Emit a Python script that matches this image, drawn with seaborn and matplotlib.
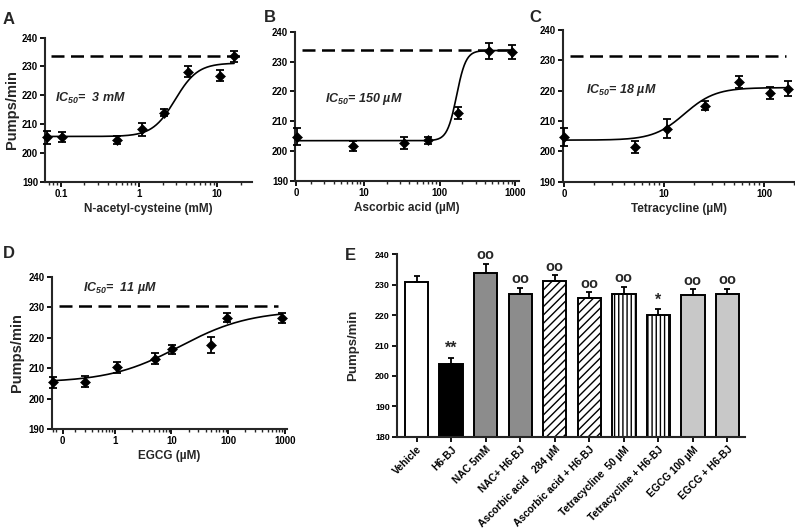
import numpy as np
import pandas as pd
import matplotlib

matplotlib.use("Agg")
import matplotlib.pyplot as plt
import seaborn as sns
from matplotlib.ticker import FixedLocator, FixedFormatter, LogLocator, NullFormatter

# A: N-acetyl-cysteine (mM)
nac_conc = [0.066, 0.103, 0.52, 1.09, 2.1, 4.3, 11.0, 16.5]
nac_pumps = [205.4, 205.5, 204.6, 208.2, 214.0, 228.2, 226.8, 233.5]
nac_sem = [2.3, 1.8, 1.4, 2.2, 1.2, 2.0, 2.0, 1.8]
nac_fit = [205.7, 231.2, 2.9, 3.0]  # bottom, top, IC50, hill
nac_vehicle = 233.8

# B: ascorbic acid (uM), "0" drawn at the left end of the log axis
asc_conc = [1.29, 7.1, 34, 71, 177, 450, 900]
asc_pumps = [204.8, 201.7, 202.8, 203.7, 212.7, 233.5, 233.2]
asc_sem = [2.8, 1.8, 2.0, 1.2, 2.0, 2.8, 2.5]
asc_fit = [203.5, 233.7, 168, 7.0]
asc_vehicle = 233.9

# C: tetracycline (uM)
tet_conc = [1.0, 5.1, 10.8, 25.9, 56, 115, 174]
tet_pumps = [204.7, 201.4, 207.5, 215.0, 223.0, 219.3, 220.6]
tet_sem = [3.0, 2.0, 3.2, 1.5, 2.0, 2.0, 2.5]
tet_fit = [203.7, 221.0, 16, 2.8]
tet_vehicle = 231.4

# D: EGCG (uM)
egcg_conc = [0.08, 0.30, 1.1, 5.2, 10.4, 49, 97, 900]
egcg_pumps = [205.4, 205.6, 210.3, 213.1, 216.2, 217.6, 226.6, 226.4]
egcg_sem = [1.8, 1.8, 1.8, 1.8, 1.5, 2.5, 1.5, 1.7]
egcg_fit = [205.3, 229.0, 14, 0.7]
egcg_vehicle = 230.3

# E: bars
groups = ["Vehicle", "H6-BJ", "NAC 5mM", "NAC+ H6-BJ", "Ascorbic acid   284 \u00b5M",
          "Ascorbic acid + H6-BJ", "Tetracycline  50 \u00b5M", "Tetracycline + H6-BJ",
          "EGCG 100 \u00b5M", "EGCG + H6-BJ"]
bar_pumps = [231.0, 204.0, 234.0, 227.0, 231.3, 225.5, 227.0, 220.0, 226.7, 227.0]
bar_sem = [2.0, 2.0, 2.8, 2.0, 1.8, 2.0, 2.2, 2.0, 1.8, 1.6]
bar_marks = ["", "**", "oo", "oo", "oo", "oo", "oo", "*", "oo", "oo"]
bar_colors = ["white", "black", "#8c8c8c", "#8c8c8c", "white", "white",
              "white", "white", "#c8c8c8", "#c8c8c8"]
bar_hatches = ["", "", "", "", "////", "////", "||||", "||||", "", ""]

sns.set_theme(style="ticks")
plt.rcParams["font.family"] = ["Liberation Sans", "DejaVu Sans"]
plt.rcParams["font.weight"] = "bold"
plt.rcParams["axes.labelweight"] = "bold"
plt.rcParams["mathtext.fontset"] = "custom"
plt.rcParams["mathtext.rm"] = "Liberation Sans:bold:italic"
plt.rcParams["mathtext.it"] = "Liberation Sans:bold:italic"
plt.rcParams["hatch.linewidth"] = 1.0
plt.rcParams["axes.linewidth"] = 1.5


def logistic(x, bottom, top, x50, hill):
    return bottom + (top - bottom) / (1 + (x50 / x) ** hill)


def style_axis(ax, size=6.9):
    ax.spines[["top", "right"]].set_visible(False)
    ax.tick_params(which="major", direction="out", length=3.5, width=1.3,
                   labelsize=size, pad=1.5, colors="black")
    ax.tick_params(which="minor", direction="out", length=2, width=1.0)


def dose_panel(ax, conc, pumps, sem, fit, vehicle, xlim, ticks, labels, xlabel, ic50, ic50_pos):
    xs = np.geomspace(conc[0], conc[-1], 300)
    curve = pd.DataFrame({"x": xs, "y": logistic(xs, *fit)})
    ax.set_xscale("log")
    sns.lineplot(data=curve, x="x", y="y", color="black", lw=1.2, ax=ax)
    ax.errorbar(conc, pumps, yerr=sem, fmt="none", ecolor="black", elinewidth=1.3,
                capsize=2.8, capthick=1.3, clip_on=False, zorder=3)
    sns.scatterplot(x=conc, y=pumps, marker="D", s=26, color="black", edgecolor="black",
                    ax=ax, clip_on=False, zorder=4)
    ax.axhline(vehicle, xmin=0.03, xmax=0.96, color="black", lw=1.8, dashes=(5.2, 2.6))
    ax.set_xlim(*xlim)
    ax.set_ylim(190, 240)
    ax.set_yticks(range(190, 241, 10))
    ax.xaxis.set_major_locator(FixedLocator(ticks))
    ax.xaxis.set_major_formatter(FixedFormatter(labels))
    ax.xaxis.set_minor_locator(LogLocator(base=10, subs=np.arange(2, 10)))
    ax.xaxis.set_minor_formatter(NullFormatter())
    ax.set_xlabel(xlabel, fontsize=8.5, labelpad=3)
    ax.set_ylabel("")
    ax.text(*ic50_pos, ic50, transform=ax.transAxes, fontsize=9, fontstyle="italic",
            fontweight="bold", va="center", ha="left")
    style_axis(ax)


fig = plt.figure(figsize=(7.95, 5.3), dpi=100)
ax_a = fig.add_axes([0.0566, 0.6572, 0.2604, 0.2717])
ax_b = fig.add_axes([0.3711, 0.6585, 0.2818, 0.2817])
ax_c = fig.add_axes([0.7078, 0.6572, 0.2922, 0.2862])
ax_d = fig.add_axes([0.0650, 0.1900, 0.2962, 0.2879])
ax_e = fig.add_axes([0.4990, 0.1760, 0.4380, 0.3442])

dose_panel(ax_a, nac_conc, nac_pumps, nac_sem, nac_fit, nac_vehicle, (0.0625, 28),
           [0.1, 1, 10], ["0.1", "1", "10"], "N-acetyl-cysteine (mM)",
           "IC$_{50}$=  3 mM", (0.05, 0.575))
dose_panel(ax_b, asc_conc, asc_pumps, asc_sem, asc_fit, asc_vehicle, (1.23, 1125),
           [1.27, 10, 100, 1000], ["0", "10", "100", "1000"], "Ascorbic acid (\u00b5M)",
           "IC$_{50}$= 150 \u00b5M", (0.135, 0.55))
dose_panel(ax_c, tet_conc, tet_pumps, tet_sem, tet_fit, tet_vehicle, (0.97, 204),
           [1.0, 10, 100], ["0", "10", "100"], "Tetracycline (\u00b5M)",
           "IC$_{50}$= 18 \u00b5M", (0.1, 0.605))
dose_panel(ax_d, egcg_conc, egcg_pumps, egcg_sem, egcg_fit, egcg_vehicle, (0.077, 1100),
           [0.12, 1, 10, 100, 1000], ["0", "1", "10", "100", "1000"], "EGCG (\u00b5M)",
           "IC$_{50}$=  11 \u00b5M", (0.135, 0.925))
ax_a.set_ylabel("Pumps/min", fontsize=10.5, labelpad=2)
ax_d.set_ylabel("Pumps/min", fontsize=10.5, labelpad=3)

# E
bars = pd.DataFrame({"group": groups, "pumps": bar_pumps})
sns.barplot(data=bars, x="group", y="pumps", hue="group", palette=bar_colors,
            width=0.68, edgecolor="black", linewidth=1.4, legend=False, ax=ax_e)
for cont, hatch in zip(ax_e.containers, bar_hatches):
    for bar in cont:
        bar.set_hatch(hatch)
ax_e.errorbar(range(len(groups)), bar_pumps, yerr=[np.zeros(len(groups)), bar_sem],
              fmt="none", ecolor="black", elinewidth=1.3, capsize=2.5, capthick=1.3, zorder=3)
for i, mark in enumerate(bar_marks):
    ax_e.annotate(mark, (i, bar_pumps[i] + bar_sem[i]), xytext=(0, 1.2),
                  textcoords="offset points", ha="center", va="bottom",
                  fontsize=10.5 if mark == "oo" else 11.5, fontweight="bold")
ax_e.set_xlim(-0.58, 9.51)
ax_e.set_ylim(180, 240)
ax_e.set_yticks(range(180, 241, 10))
ax_e.set_xlabel("")
ax_e.set_ylabel("Pumps/min", fontsize=9.5, labelpad=11)
style_axis(ax_e, size=6.4)
ax_e.tick_params(axis="x", labelsize=7.4, pad=2)
for lab in ax_e.get_xticklabels():
    lab.set_rotation(45)
    lab.set_ha("right")
    lab.set_rotation_mode("anchor")

for letter, x, y in [("A", 0.003, 0.978), ("B", 0.332, 0.982), ("C", 0.666, 0.982),
                     ("D", 0.004, 0.535), ("E", 0.434, 0.533)]:
    fig.text(x, y, letter, fontsize=12, fontweight="bold", va="top", ha="left")

fig.savefig("out.png", dpi=100)
